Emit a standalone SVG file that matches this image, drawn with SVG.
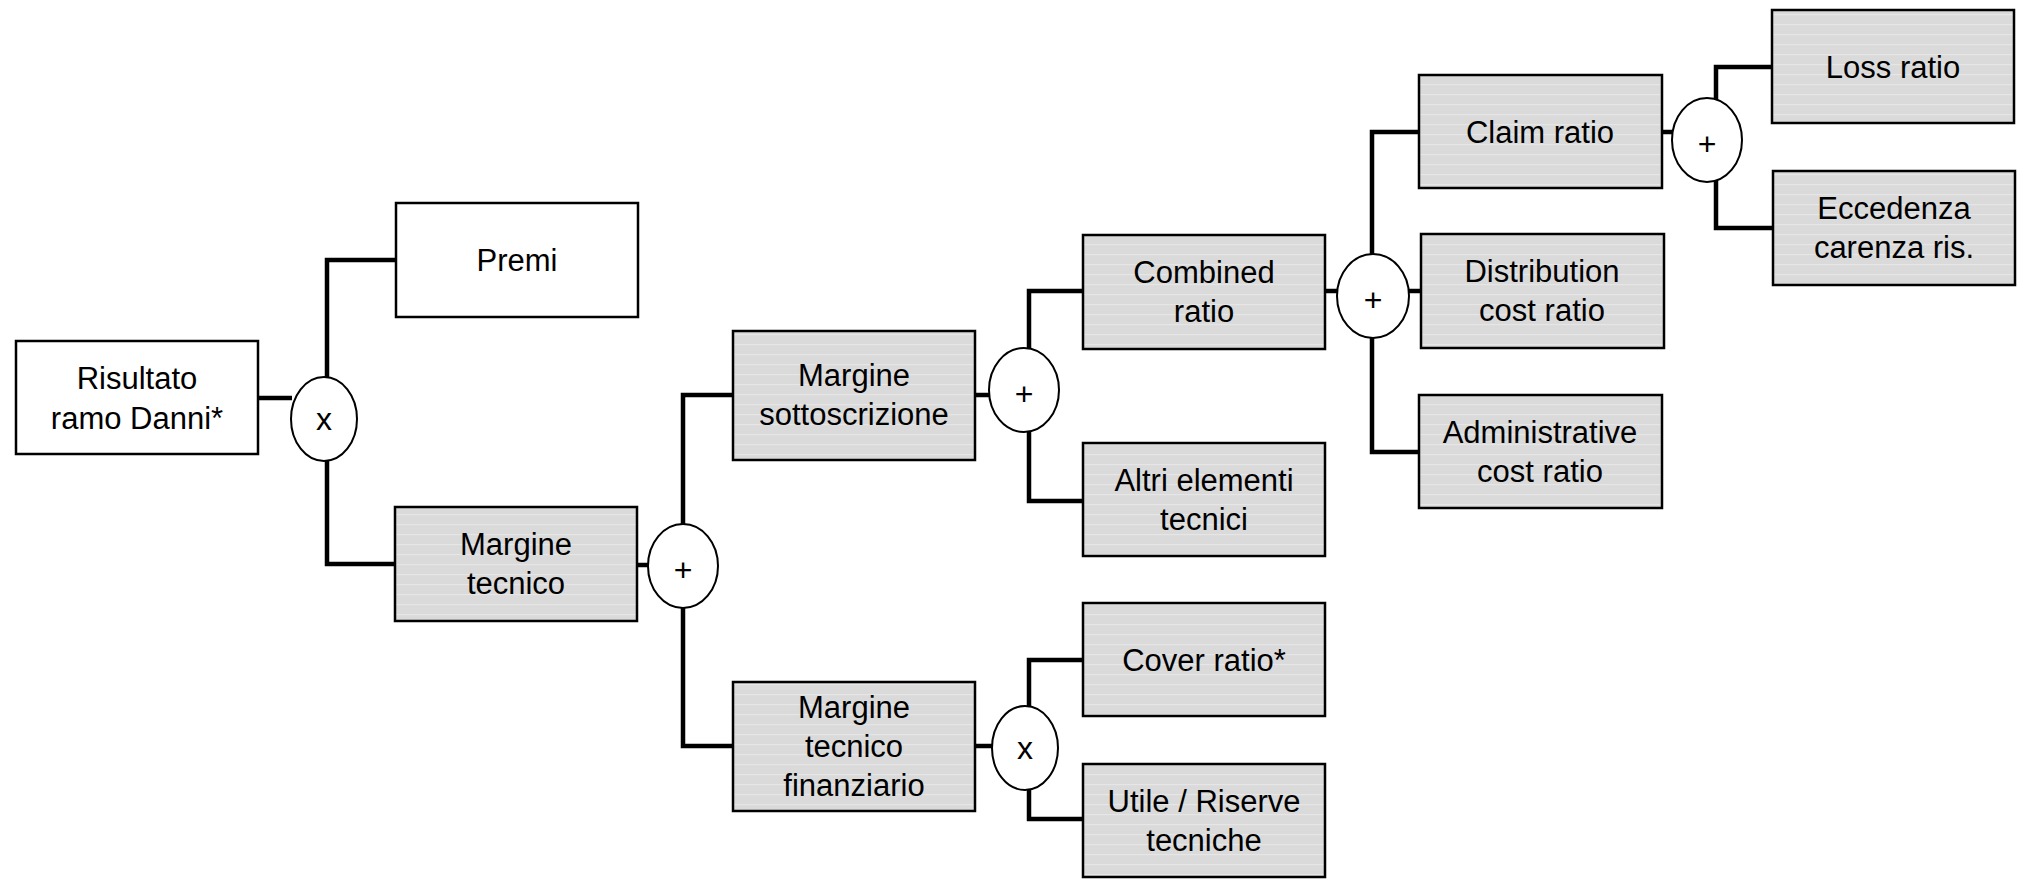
<svg xmlns="http://www.w3.org/2000/svg" width="2022" height="881" viewBox="0 0 2022 881">
<style>
.box{stroke:#000;stroke-width:2.5}
.w{fill:#fff}
.g{fill:url(#stripes)}
.op{fill:#fff;stroke:#000;stroke-width:2}
.t{font-family:"Liberation Sans",Arial,sans-serif;font-size:31px;fill:#000;text-anchor:middle}
.o{font-family:"Liberation Sans",Arial,sans-serif;font-size:32px;fill:#000;text-anchor:middle}
.c{fill:none;stroke:#000;stroke-width:4.5;stroke-linejoin:miter;stroke-linecap:butt}
</style>
<defs>
<pattern id="stripes" patternUnits="userSpaceOnUse" width="10" height="10">
<rect width="10" height="10" fill="#dadada"/>
<rect y="4" width="10" height="1.2" fill="#e6e6e6"/>
</pattern>
</defs>
<rect width="2022" height="881" fill="#fff"/>
<g id="connectors">
<path class="c" d="M258,398 H292"/>
<path class="c" d="M327,378 V260 H396"/>
<path class="c" d="M327,460 V564 H395"/>
<path class="c" d="M637,565 H649"/>
<path class="c" d="M683,525 V395 H733"/>
<path class="c" d="M683,607 V746 H733"/>
<path class="c" d="M975,395 H990"/>
<path class="c" d="M1029,349 V291 H1083"/>
<path class="c" d="M1029,431 V501 H1083"/>
<path class="c" d="M975,746 H993"/>
<path class="c" d="M1029,707 V660 H1083"/>
<path class="c" d="M1029,789 V819 H1083"/>
<path class="c" d="M1325,291 H1338"/>
<path class="c" d="M1372,255 V132 H1419"/>
<path class="c" d="M1408,291 H1421"/>
<path class="c" d="M1372,337 V452 H1419"/>
<path class="c" d="M1662,132 H1673"/>
<path class="c" d="M1716,100 V67 H1772"/>
<path class="c" d="M1716,180 V228 H1773"/>
</g>
<g id="n_risultato"><rect class="box w" x="16" y="341" width="242" height="113"/><text class="t" x="137" y="389">Risultato</text><text class="t" x="137" y="429">ramo Danni*</text></g>
<g id="n_premi"><rect class="box w" x="396" y="203" width="242" height="114"/><text class="t" x="517" y="271">Premi</text></g>
<g id="n_margine_tecnico"><rect class="box g" x="395" y="507" width="242" height="114"/><text class="t" x="516" y="555">Margine</text><text class="t" x="516" y="594">tecnico</text></g>
<g id="n_margine_sottoscrizione"><rect class="box g" x="733" y="331" width="242" height="129"/><text class="t" x="854" y="386">Margine</text><text class="t" x="854" y="425">sottoscrizione</text></g>
<g id="n_margine_tecnico_finanziario"><rect class="box g" x="733" y="682" width="242" height="129"/><text class="t" x="854" y="718">Margine</text><text class="t" x="854" y="757">tecnico</text><text class="t" x="854" y="796">finanziario</text></g>
<g id="n_combined"><rect class="box g" x="1083" y="235" width="242" height="114"/><text class="t" x="1204" y="283">Combined</text><text class="t" x="1204" y="322">ratio</text></g>
<g id="n_altri"><rect class="box g" x="1083" y="443" width="242" height="113"/><text class="t" x="1204" y="491">Altri elementi</text><text class="t" x="1204" y="530">tecnici</text></g>
<g id="n_cover"><rect class="box g" x="1083" y="603" width="242" height="113"/><text class="t" x="1204" y="671">Cover ratio*</text></g>
<g id="n_utile"><rect class="box g" x="1083" y="764" width="242" height="113"/><text class="t" x="1204" y="812">Utile / Riserve</text><text class="t" x="1204" y="851">tecniche</text></g>
<g id="n_claim"><rect class="box g" x="1419" y="75" width="243" height="113"/><text class="t" x="1540" y="143">Claim ratio</text></g>
<g id="n_distribution"><rect class="box g" x="1421" y="234" width="243" height="114"/><text class="t" x="1542" y="282">Distribution</text><text class="t" x="1542" y="321">cost ratio</text></g>
<g id="n_admin"><rect class="box g" x="1419" y="395" width="243" height="113"/><text class="t" x="1540" y="443">Administrative</text><text class="t" x="1540" y="482">cost ratio</text></g>
<g id="n_loss"><rect class="box g" x="1772" y="10" width="242" height="113"/><text class="t" x="1893" y="78">Loss ratio</text></g>
<g id="n_eccedenza"><rect class="box g" x="1773" y="171" width="242" height="114"/><text class="t" x="1894" y="219">Eccedenza</text><text class="t" x="1894" y="258">carenza ris.</text></g>
<g id="op1"><ellipse class="op" cx="324" cy="419" rx="33" ry="42"/><text class="o" x="324" y="430">x</text></g>
<g id="op2"><ellipse class="op" cx="683" cy="566" rx="35" ry="42"/><text class="o" x="683" y="581">+</text></g>
<g id="op3"><ellipse class="op" cx="1024" cy="390" rx="35" ry="42"/><text class="o" x="1024" y="405">+</text></g>
<g id="op4"><ellipse class="op" cx="1025" cy="748" rx="33" ry="42"/><text class="o" x="1025" y="759">x</text></g>
<g id="op5"><ellipse class="op" cx="1373" cy="296" rx="36" ry="42"/><text class="o" x="1373" y="311">+</text></g>
<g id="op6"><ellipse class="op" cx="1707" cy="140" rx="35" ry="42"/><text class="o" x="1707" y="155">+</text></g>
</svg>
